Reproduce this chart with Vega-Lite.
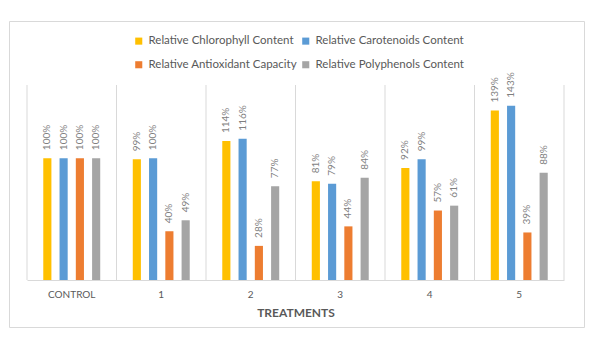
{
  "$schema": "https://vega.github.io/schema/vega-lite/v6.json",
  "width": 575,
  "height": 306,
  "autosize": {"type": "none"},
  "padding": {"left": 9, "top": 21, "right": 16, "bottom": 15},
  "config": {"view": {"stroke": "#D9D9D9", "strokeWidth": 1}, "font": "Lato"},
  "data": {
    "values": [
      {"treatment": "CONTROL", "series": "Relative Chlorophyll Content", "value": 1.00},
      {"treatment": "CONTROL", "series": "Relative Carotenoids Content", "value": 1.00},
      {"treatment": "CONTROL", "series": "Relative Antioxidant Capacity", "value": 1.00},
      {"treatment": "CONTROL", "series": "Relative Polyphenols Content", "value": 1.00},
      {"treatment": "1", "series": "Relative Chlorophyll Content", "value": 0.99},
      {"treatment": "1", "series": "Relative Carotenoids Content", "value": 1.00},
      {"treatment": "1", "series": "Relative Antioxidant Capacity", "value": 0.40},
      {"treatment": "1", "series": "Relative Polyphenols Content", "value": 0.49},
      {"treatment": "2", "series": "Relative Chlorophyll Content", "value": 1.14},
      {"treatment": "2", "series": "Relative Carotenoids Content", "value": 1.16},
      {"treatment": "2", "series": "Relative Antioxidant Capacity", "value": 0.28},
      {"treatment": "2", "series": "Relative Polyphenols Content", "value": 0.77},
      {"treatment": "3", "series": "Relative Chlorophyll Content", "value": 0.81},
      {"treatment": "3", "series": "Relative Carotenoids Content", "value": 0.79},
      {"treatment": "3", "series": "Relative Antioxidant Capacity", "value": 0.44},
      {"treatment": "3", "series": "Relative Polyphenols Content", "value": 0.84},
      {"treatment": "4", "series": "Relative Chlorophyll Content", "value": 0.92},
      {"treatment": "4", "series": "Relative Carotenoids Content", "value": 0.99},
      {"treatment": "4", "series": "Relative Antioxidant Capacity", "value": 0.57},
      {"treatment": "4", "series": "Relative Polyphenols Content", "value": 0.61},
      {"treatment": "5", "series": "Relative Chlorophyll Content", "value": 1.39},
      {"treatment": "5", "series": "Relative Carotenoids Content", "value": 1.43},
      {"treatment": "5", "series": "Relative Antioxidant Capacity", "value": 0.39},
      {"treatment": "5", "series": "Relative Polyphenols Content", "value": 0.88}
    ]
  },
  "encoding": {
    "x": {
      "field": "treatment",
      "type": "nominal",
      "sort": ["CONTROL", "1", "2", "3", "4", "5"],
      "scale": {"range": [18, 555], "paddingInner": 0, "paddingOuter": 0},
      "axis": {
        "title": "TREATMENTS",
        "titleFontWeight": "bold",
        "titleFontSize": 12,
        "titleColor": "#595959",
        "titlePadding": 8,
        "labelAngle": 0,
        "labelFontSize": 10,
        "labelColor": "#595959",
        "labelPadding": 9,
        "ticks": false,
        "domainColor": "#D9D9D9",
        "grid": false,
        "offset": -47
      }
    }
  },
  "layer": [
    {
      "transform": [{"filter": "datum.series == 'Relative Chlorophyll Content'"}],
      "mark": {"type": "rule", "color": "#D9D9D9", "strokeWidth": 1},
      "encoding": {
        "x": {"field": "treatment", "type": "nominal", "sort": ["CONTROL", "1", "2", "3", "4", "5"], "bandPosition": 0},
        "y": {"datum": 1.6, "type": "quantitative", "scale": {"domain": [0, 1.6], "range": [259, 64], "nice": false, "zero": true}, "axis": null},
        "y2": {"datum": 0}
      }
    },
    {
      "transform": [{"filter": "datum.series == 'Relative Chlorophyll Content' && datum.treatment == '5'"}],
      "mark": {"type": "rule", "color": "#D9D9D9", "strokeWidth": 1},
      "encoding": {
        "x": {"field": "treatment", "type": "nominal", "sort": ["CONTROL", "1", "2", "3", "4", "5"], "bandPosition": 1},
        "y": {"datum": 1.6, "type": "quantitative"},
        "y2": {"datum": 0}
      }
    },
    {
      "mark": {"type": "bar"},
      "encoding": {
        "xOffset": {
          "field": "series",
          "type": "nominal",
          "sort": ["Relative Chlorophyll Content", "Relative Carotenoids Content", "Relative Antioxidant Capacity", "Relative Polyphenols Content"],
          "scale": {"paddingInner": 0.5, "paddingOuter": 1.108}
        },
        "y": {"field": "value", "type": "quantitative"},
        "color": {
          "field": "series",
          "type": "nominal",
          "scale": {
            "domain": ["Relative Chlorophyll Content", "Relative Carotenoids Content", "Relative Antioxidant Capacity", "Relative Polyphenols Content"],
            "range": ["#FFC000", "#5B9BD5", "#ED7D31", "#A5A5A5"]
          },
          "legend": {
            "orient": "none",
            "legendX": 124,
            "legendY": 14,
            "direction": "horizontal",
            "columns": 2,
            "title": null,
            "symbolType": "square",
            "symbolSize": 50,
            "symbolStrokeWidth": 0,
            "labelFontSize": 11.5,
            "labelColor": "#595959",
            "labelLimit": 0,
            "rowPadding": 11,
            "columnPadding": 3
          }
        }
      }
    },
    {
      "mark": {"type": "text", "angle": 270, "align": "left", "baseline": "middle", "dx": 8, "fontSize": 10, "color": "#7F7F7F"},
      "encoding": {
        "xOffset": {
          "field": "series",
          "type": "nominal",
          "sort": ["Relative Chlorophyll Content", "Relative Carotenoids Content", "Relative Antioxidant Capacity", "Relative Polyphenols Content"]
        },
        "y": {"field": "value", "type": "quantitative"},
        "text": {"field": "value", "type": "quantitative", "format": ".0%"}
      }
    }
  ]
}
